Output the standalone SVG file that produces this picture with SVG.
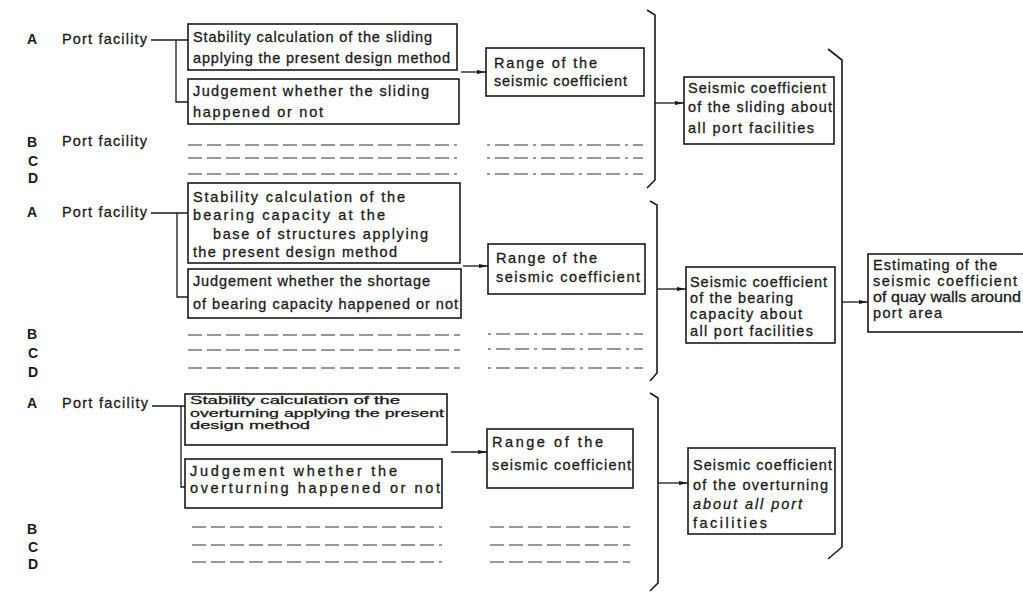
<svg xmlns="http://www.w3.org/2000/svg" width="1023" height="595" viewBox="0 0 1023 595">
<style>
.bg{fill:#ffffff}
.box{fill:none;stroke:#1a1a1a;stroke-width:1.6}
.t{font-family:"Liberation Sans",Arial,sans-serif;font-size:14.5px;fill:#1a1a1a;stroke:#1a1a1a;stroke-width:0.3}
.s{font-size:11.8px}
.lbl{font-family:"Liberation Sans",Arial,sans-serif;font-size:14px;font-weight:bold;fill:#1a1a1a}
.ln{fill:none;stroke:#1a1a1a;stroke-width:1.3}
.br{fill:none;stroke:#1a1a1a;stroke-width:1.6}
.ph{fill:none;stroke:#333;stroke-width:1.2;stroke-dasharray:14 5}
.ph2{fill:none;stroke:#333;stroke-width:1.2;stroke-dasharray:3 5 14 5 14 5}
</style>
<defs>
<marker id="ah" markerWidth="9" markerHeight="6" refX="9" refY="3" orient="auto" markerUnits="userSpaceOnUse">
<path d="M0,1 L9,3 L0,5 Z" fill="#1a1a1a"/>
</marker>
</defs>
<rect class="bg" x="0" y="0" width="1023" height="595"/>

<g id="labels">
<text class="lbl" x="27" y="44">A</text>
<text class="t" x="62" y="44" textLength="85" lengthAdjust="spacing">Port facility</text>
<text class="lbl" x="27" y="147">B</text>
<text class="t" x="62" y="146" textLength="85" lengthAdjust="spacing">Port facility</text>
<text class="lbl" x="28" y="166">C</text>
<text class="lbl" x="28" y="183">D</text>
<text class="lbl" x="27" y="217">A</text>
<text class="t" x="62" y="217" textLength="85" lengthAdjust="spacing">Port facility</text>
<text class="lbl" x="27" y="339">B</text>
<text class="lbl" x="28" y="358">C</text>
<text class="lbl" x="28" y="377">D</text>
<text class="lbl" x="27" y="408">A</text>
<text class="t" x="62" y="408" textLength="86" lengthAdjust="spacing">Port facility</text>
<text class="lbl" x="27" y="534">B</text>
<text class="lbl" x="28" y="552">C</text>
<text class="lbl" x="28" y="569">D</text>
</g>

<g id="n-calc-sliding">
<rect class="box" x="188" y="24" width="269" height="46"/>
<text class="t" x="193" y="42" textLength="239" lengthAdjust="spacing">Stability calculation of the sliding</text>
<text class="t" x="193" y="63" textLength="257" lengthAdjust="spacing">applying the present design method</text>
</g>
<g id="n-judge-sliding">
<rect class="box" x="188" y="79" width="271" height="45"/>
<text class="t" x="193" y="96" textLength="236" lengthAdjust="spacing">Judgement whether the sliding</text>
<text class="t" x="193" y="117" textLength="130" lengthAdjust="spacing">happened or not</text>
</g>
<g id="n-range-1">
<rect class="box" x="486" y="48" width="158" height="48"/>
<text class="t" x="494" y="68" textLength="103" lengthAdjust="spacing">Range of the</text>
<text class="t" x="494" y="86" textLength="133" lengthAdjust="spacing">seismic coefficient</text>
</g>
<g id="n-seis-sliding">
<rect class="box" x="684" y="77" width="150" height="67"/>
<text class="t" x="688" y="93" textLength="138" lengthAdjust="spacing">Seismic coefficient</text>
<text class="t" x="688" y="112" textLength="144" lengthAdjust="spacing">of the sliding about</text>
<text class="t" x="688" y="133" textLength="126" lengthAdjust="spacing">all port facilities</text>
</g>

<g id="n-calc-bearing">
<rect class="box" x="188" y="183" width="272" height="80"/>
<text class="t" x="193" y="202" textLength="212" lengthAdjust="spacing">Stability calculation of the</text>
<text class="t" x="193" y="220" textLength="192" lengthAdjust="spacing">bearing capacity at the</text>
<text class="t" x="213" y="239" textLength="215" lengthAdjust="spacing">base of structures applying</text>
<text class="t" x="193" y="257" textLength="204" lengthAdjust="spacing">the present design method</text>
</g>
<g id="n-judge-bearing">
<rect class="box" x="188" y="269" width="273" height="49"/>
<text class="t" x="193" y="286" textLength="237" lengthAdjust="spacing">Judgement whether the shortage</text>
<text class="t" x="193" y="309" textLength="265" lengthAdjust="spacing">of bearing capacity happened or not</text>
</g>
<g id="n-range-2">
<rect class="box" x="488" y="244" width="157" height="50"/>
<text class="t" x="496" y="263" textLength="101" lengthAdjust="spacing">Range of the</text>
<text class="t" x="496" y="282" textLength="144" lengthAdjust="spacing">seismic coefficient</text>
</g>
<g id="n-seis-bearing">
<rect class="box" x="686" y="267" width="149" height="76"/>
<text class="t" x="690" y="287" textLength="137" lengthAdjust="spacing">Seismic coefficient</text>
<text class="t" x="690" y="303" textLength="103" lengthAdjust="spacing">of the bearing</text>
<text class="t" x="690" y="319" textLength="112" lengthAdjust="spacing">capacity about</text>
<text class="t" x="690" y="336" textLength="123" lengthAdjust="spacing">all port facilities</text>
</g>

<g id="n-calc-overturning">
<rect class="box" x="185" y="394" width="262" height="51"/>
<text class="t s" x="190" y="404" textLength="210" lengthAdjust="spacingAndGlyphs">Stability calculation of the</text>
<text class="t s" x="190" y="416.5" textLength="254" lengthAdjust="spacingAndGlyphs">overturning applying the present</text>
<text class="t s" x="190" y="429" textLength="120" lengthAdjust="spacingAndGlyphs">design method</text>
</g>
<g id="n-judge-overturning">
<rect class="box" x="185" y="459" width="257" height="49"/>
<text class="t" x="190" y="476" textLength="207" lengthAdjust="spacing">Judgement whether the</text>
<text class="t" x="190" y="493" textLength="250" lengthAdjust="spacing">overturning happened or not</text>
</g>
<g id="n-range-3">
<rect class="box" x="487" y="429" width="146" height="59"/>
<text class="t" x="492" y="447" textLength="111" lengthAdjust="spacing">Range of the</text>
<text class="t" x="492" y="470" textLength="139" lengthAdjust="spacing">seismic coefficient</text>
</g>
<g id="n-seis-overturning">
<rect class="box" x="688" y="448" width="147" height="86"/>
<text class="t" x="693" y="470" textLength="139" lengthAdjust="spacing">Seismic coefficient</text>
<text class="t" x="693" y="490" textLength="135" lengthAdjust="spacing">of the overturning</text>
<text class="t" x="693" y="509" textLength="109" lengthAdjust="spacing" font-style="italic">about all port</text>
<text class="t" x="693" y="528" textLength="74" lengthAdjust="spacing">facilities</text>
</g>

<g id="n-estimate">
<rect class="box" x="868" y="254" width="162" height="78"/>
<text class="t" x="873" y="270" textLength="124" lengthAdjust="spacing">Estimating of the</text>
<text class="t" x="873" y="286" textLength="144" lengthAdjust="spacing">seismic coefficient</text>
<text class="t" x="873" y="302" textLength="148" lengthAdjust="spacingAndGlyphs">of quay walls around</text>
<text class="t" x="873" y="318" textLength="69" lengthAdjust="spacing">port area</text>
</g>

<g id="placeholders">
<path class="ph" d="M188,145 H457 M188,158 H457 M188,174 H457"/>
<path class="ph2" d="M487,145 H643 M487,158 H643 M487,174 H643"/>
<path class="ph" d="M188,335 H460 M188,350 H460 M188,368 H460"/>
<path class="ph2" d="M488,334 H643 M488,349 H643 M488,368 H643"/>
<path class="ph" d="M192,527 H442 M192,545 H442 M192,562 H442"/>
<path class="ph" d="M490,527 H630 M490,545 H630 M490,562 H630"/>
</g>

<g id="connectors">
<path class="ln" d="M151,40 H188 M176,40 V102 H188"/>
<path class="ln" d="M151,213 H188 M177,213 V297 H188"/>
<path class="ln" d="M152,406 H185 M181,406 V487 H185"/>
<path class="ln" d="M461,72 H486" marker-end="url(#ah)"/>
<path class="ln" d="M463,266 H488" marker-end="url(#ah)"/>
<path class="ln" d="M451,452 H487" marker-end="url(#ah)"/>
<path class="br" d="M647,10 L655,15 V180 L647,188"/>
<path class="ln" d="M655,103 H684" marker-end="url(#ah)"/>
<path class="br" d="M650,201 L657,205 V373 L650,381"/>
<path class="ln" d="M657,289 H686" marker-end="url(#ah)"/>
<path class="br" d="M650,393 L658,398 V583 L650,591"/>
<path class="ln" d="M658,483 H688" marker-end="url(#ah)"/>
<path class="br" d="M828,49 L842,60 V547 L828,559"/>
<path class="ln" d="M842,302 H868" marker-end="url(#ah)"/>
</g>
</svg>
